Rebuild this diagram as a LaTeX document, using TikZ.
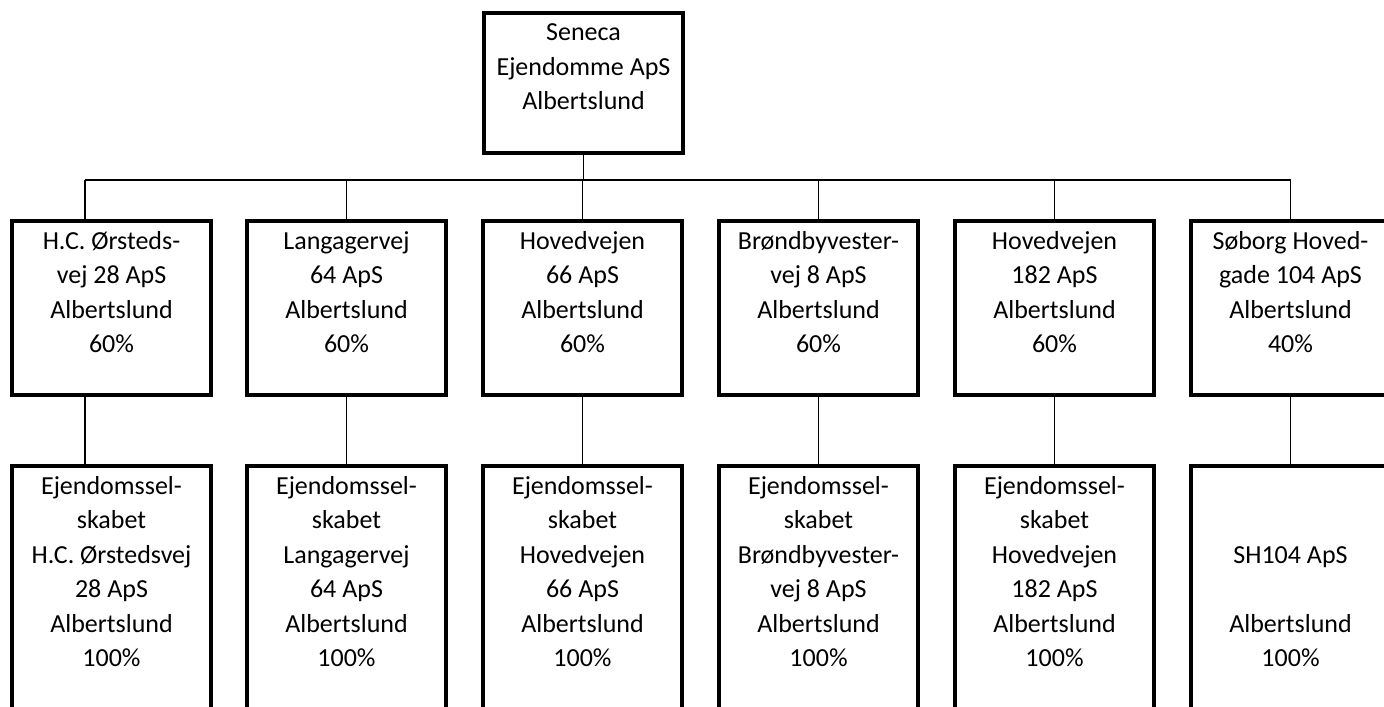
\documentclass[tikz,border=0pt]{standalone}
\usepackage{fontspec}
\setmainfont{Carlito}
\newcommand{\boxtxt}[2]{\parbox[c][#1][t]{99.5pt}{\centering\rule{0pt}{14pt}#2}}
\begin{document}
\begin{tikzpicture}[x=0.5pt, y=-0.5pt,
    firm/.style={draw, line width=1.6pt, inner sep=0pt, fill=white,
      font=\fontsize{13}{17.25}\selectfont},
    link/.style={line width=0.9pt},
    bus/.style={line width=0.6pt}]
  \clip (0,0) rectangle (1384,706);
  \fill[white] (0,0) rectangle (1384,706);

  \node[firm] (A) at (583.5,83) {\boxtxt{70pt}{Seneca\\Ejendomme ApS\\Albertslund}};

  \node[firm] (B1) at (111.5,308) {\boxtxt{87pt}{H.C. Ørsteds-\\vej 28 ApS\\Albertslund\\60\%}};
  \node[firm] (B2) at (346.5,308) {\boxtxt{87pt}{Langagervej\\64 ApS\\Albertslund\\60\%}};
  \node[firm] (B3) at (582.5,308) {\boxtxt{87pt}{Hovedvejen\\66 ApS\\Albertslund\\60\%}};
  \node[firm] (B4) at (818.5,308) {\boxtxt{87pt}{Brøndbyvester-\\vej 8 ApS\\Albertslund\\60\%}};
  \node[firm] (B5) at (1054.5,308) {\boxtxt{87pt}{Hovedvejen\\182 ApS\\Albertslund\\60\%}};
  \node[firm] (B6) at (1290.5,308) {\boxtxt{87pt}{Søborg Hoved-\\gade 104 ApS\\Albertslund\\40\%}};

  \node[firm] (C1) at (111.5,596) {\boxtxt{130pt}{Ejendomssel-\\skabet\\H.C. Ørstedsvej\\28 ApS\\Albertslund\\100\%}};
  \node[firm] (C2) at (346.5,596) {\boxtxt{130pt}{Ejendomssel-\\skabet\\Langagervej\\64 ApS\\Albertslund\\100\%}};
  \node[firm] (C3) at (582.5,596) {\boxtxt{130pt}{Ejendomssel-\\skabet\\Hovedvejen\\66 ApS\\Albertslund\\100\%}};
  \node[firm] (C4) at (818.5,596) {\boxtxt{130pt}{Ejendomssel-\\skabet\\Brøndbyvester-\\vej 8 ApS\\Albertslund\\100\%}};
  \node[firm] (C5) at (1054.5,596) {\boxtxt{130pt}{Ejendomssel-\\skabet\\Hovedvejen\\182 ApS\\Albertslund\\100\%}};
  \node[firm] (C6) at (1290.5,596) {\boxtxt{130pt}{\mbox{}\\\mbox{}\\SH104 ApS\\\mbox{}\\Albertslund\\100\%}};

  \coordinate (K1) at (85,180);
  \coordinate (K6) at (1290.5,180);

  \draw[link] (A.south) -- (A.south |- K1);
  \draw[bus] (K1) -- (K6);
  \draw[link] (K1) -- (B1.north -| K1);
  \draw[link] (B2.north |- K1) -- (B2.north);
  \draw[link] (B3.north |- K1) -- (B3.north);
  \draw[link] (B4.north |- K1) -- (B4.north);
  \draw[link] (B5.north |- K1) -- (B5.north);
  \draw[link] (K6) -- (B6.north);

  \draw[link] (B1.south -| K1) -- (C1.north -| K1);
  \draw[link] (B2.south) -- (C2.north);
  \draw[link] (B3.south) -- (C3.north);
  \draw[link] (B4.south) -- (C4.north);
  \draw[link] (B5.south) -- (C5.north);
  \draw[link] (B6.south) -- (C6.north);
\end{tikzpicture}
\end{document}
